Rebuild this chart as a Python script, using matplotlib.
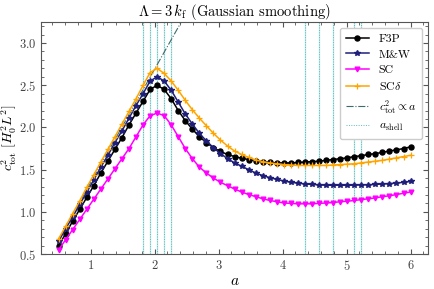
import numpy as np
import matplotlib
matplotlib.use("Agg")
import matplotlib.pyplot as plt
from matplotlib.ticker import MultipleLocator

plt.rcParams['font.family'] = 'serif'
plt.rcParams['font.serif'] = ['cmr10', 'DejaVu Serif']
plt.rcParams['mathtext.fontset'] = 'cm'
plt.rcParams['axes.formatter.use_mathtext'] = True
plt.rcParams['axes.unicode_minus'] = False

# scale factor grid
a = np.linspace(0.5, 6.0, 51)

f3p = [0.60, 0.74, 0.89, 1.03, 1.17, 1.31, 1.46, 1.60, 1.74, 1.88,
       2.03, 2.17, 2.31, 2.45, 2.50, 2.45, 2.34, 2.20, 2.08, 1.98,
       1.89, 1.82, 1.76, 1.715, 1.68, 1.655, 1.635, 1.62, 1.605, 1.595,
       1.585, 1.58, 1.58, 1.58, 1.585, 1.59, 1.595, 1.60, 1.61, 1.62,
       1.63, 1.64, 1.655, 1.665, 1.68, 1.69, 1.705, 1.72, 1.735, 1.75,
       1.77]

mw = [0.65, 0.80, 0.94, 1.09, 1.23, 1.38, 1.53, 1.67, 1.82, 1.96,
      2.11, 2.26, 2.40, 2.55, 2.60, 2.55, 2.44, 2.30, 2.16, 2.04,
      1.93, 1.84, 1.76, 1.69, 1.63, 1.58, 1.54, 1.50, 1.46, 1.43,
      1.405, 1.385, 1.365, 1.35, 1.34, 1.33, 1.325, 1.32, 1.315, 1.315,
      1.315, 1.315, 1.315, 1.32, 1.32, 1.325, 1.33, 1.335, 1.34, 1.35,
      1.36]

sc = [0.55, 0.67, 0.79, 0.91, 1.03, 1.15, 1.27, 1.39, 1.51, 1.63,
      1.75, 1.89, 2.03, 2.14, 2.17, 2.14, 2.03, 1.89, 1.75, 1.63,
      1.53, 1.46, 1.40, 1.35, 1.31, 1.27, 1.235, 1.205, 1.18, 1.155,
      1.135, 1.12, 1.105, 1.10, 1.095, 1.095, 1.095, 1.10, 1.105, 1.11,
      1.12, 1.125, 1.135, 1.145, 1.155, 1.165, 1.18, 1.19, 1.205, 1.22,
      1.235]

scd = [0.68, 0.83, 0.98, 1.13, 1.29, 1.44, 1.59, 1.74, 1.89, 2.04,
       2.19, 2.34, 2.50, 2.65, 2.70, 2.64, 2.55, 2.44, 2.32, 2.21,
       2.11, 2.02, 1.93, 1.85, 1.78, 1.72, 1.68, 1.645, 1.615, 1.595,
       1.58, 1.57, 1.56, 1.555, 1.55, 1.55, 1.55, 1.55, 1.55, 1.555,
       1.56, 1.565, 1.57, 1.58, 1.59, 1.60, 1.61, 1.625, 1.64, 1.655,
       1.67]

a_shell = [1.82, 1.93, 2.04, 2.15, 2.26, 4.35, 4.57, 4.79, 5.12, 5.23]
lin_slope = 1.345
a_lin = [0.5, 2.6]

fig = plt.figure(figsize=(4.34, 2.89), dpi=100)
ax = fig.add_axes([0.0945, 0.121, 0.892, 0.803])

for i, xs in enumerate(a_shell):
    ax.axvline(xs, color='#c2e8e8', ls='-', lw=1.0, zorder=0.9)
    ax.axvline(xs, color='#5bbaba', ls=(0, (1, 1.5)), lw=0.7, zorder=1,
               label=r'$a_{\rm shell}$' if i == 0 else None)

ax.plot(a, f3p, color='black', marker='o', ms=3.6, lw=1.1, label='F3P', zorder=4)
ax.plot(a, mw, color='#1f1f7a', marker='*', ms=3.8, lw=1.1, label='M&W', zorder=4)
ax.plot(a, sc, color='magenta', marker='v', ms=3.4, lw=1.1, label='SC', zorder=4)
ax.plot(a, scd, color='orange', marker='+', ms=4, mew=0.9, lw=1.1, label=r'SC$\delta$', zorder=4)
ax.plot(a_lin, [lin_slope * v for v in a_lin], color='#3d6b6b', ls='-.', lw=0.8,
        label=r'$c^2_{\rm tot}\propto a$', zorder=2)

ax.set_xlim(0.225, 6.275)
ax.set_ylim(0.5, 3.25)
ax.xaxis.set_major_locator(MultipleLocator(1))
ax.xaxis.set_minor_locator(MultipleLocator(0.2))
ax.yaxis.set_major_locator(MultipleLocator(0.5))
ax.yaxis.set_minor_locator(MultipleLocator(0.1))
ax.tick_params(which='both', direction='in', top=True, right=True, labelsize=9,
               colors='#555555', labelcolor='#444444')
ax.tick_params(which='major', length=3.5, pad=3.5)
ax.tick_params(which='minor', length=2)
for s in ax.spines.values():
    s.set_color('#555555')

ax.set_xlabel(r'$a$', fontsize=11, labelpad=1)
ax.set_ylabel(r'$c^2_{\rm tot}\ [H_0^2 L^2]$', fontsize=10, labelpad=0)
ax.set_title(r'$\Lambda = 3\,k_{\rm f}$ (Gaussian smoothing)', fontsize=10.5, pad=3)

h, l = ax.get_legend_handles_labels()
order = [1, 2, 3, 4, 5, 0]
ax.legend([h[i] for i in order], [l[i] for i in order], loc='upper right',
          fontsize=8.5, framealpha=1, labelspacing=0.45, handlelength=2.0,
          borderpad=0.5)

fig.savefig('out.png', dpi=100)
